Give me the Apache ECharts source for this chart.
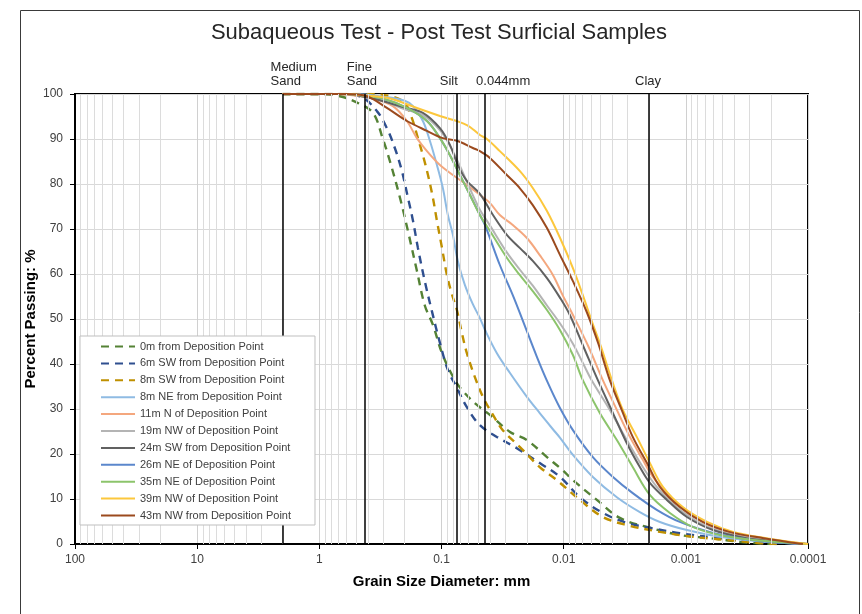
<!DOCTYPE html>
<html>
<head>
<meta charset="utf-8">
<script src="https://cdn.jsdelivr.net/npm/echarts@6/dist/echarts.min.js"></script>
<style>
  html, body { margin: 0; padding: 0; background: #fff; }
  #chart { width: 862px; height: 614px; }
</style>
</head>
<body>
<div id="chart"></div>
<script>
// grain size (mm) vs percent passing
var seriesNames = ['0m from Deposition Point', '6m SW from Deposition Point', '8m SW from Deposition Point',
  '8m NE from Deposition Point', '11m N of Deposition Point', '19m NW of Deposition Point',
  '24m SW from Deposition Point', '26m NE of Deposition Point', '35m NE of Deposition Point',
  '39m NW of Deposition Point', '43m NW from Deposition Point'];

var zeroM = [[2,100],[1,100],[0.68,99.5],[0.5,98.2],[0.364,95.8],[0.302,90],[0.264,85],[0.219,77],[0.188,69.5],
  [0.159,60.7],[0.137,53],[0.1175,48.7],[0.099,42.4],[0.0776,36.4],[0.0644,33.5],[0.0513,30.9],[0.0402,28.7],
  [0.0275,24.9],[0.02,23.1],[0.0137,19.3],[0.0102,16.4],[0.0084,14.2],[0.00535,9.8],[0.00347,5.8],[0.00197,3.6],
  [0.00112,2],[0.00064,1.3],[0.00034,0.4],[0.0002,0]];
var sixSW = [[2,100],[0.7,100],[0.466,99.5],[0.338,96.2],[0.28,92.4],[0.241,88],[0.211,82.9],[0.188,76.9],
  [0.171,71.8],[0.156,65.8],[0.137,58.4],[0.12,51.8],[0.103,44.7],[0.0887,38.7],[0.0748,34.7],[0.062,30.4],
  [0.0485,26.4],[0.0352,23.8],[0.0242,21.3],[0.0157,18],[0.0107,14.9],[0.00737,10.4],[0.00478,6.9],
  [0.00304,4.7],[0.00197,3.6],[0.00112,2.4],[0.00053,1.3],[0.00028,0.4],[0.00018,0]];
var eightSW = [[2,100],[0.4,100],[0.25,99.4],[0.1995,98],[0.175,94.7],[0.156,90.2],[0.142,86.4],[0.129,82],
  [0.1175,76.9],[0.109,71.8],[0.0991,65.8],[0.0903,59.8],[0.0822,55.5],[0.0748,52],[0.0681,46.9],[0.062,42.4],
  [0.0533,37.1],[0.0458,32.7],[0.0387,29.1],[0.0315,25.3],[0.0229,21.6],[0.0157,17.1],[0.0114,14.2],
  [0.00737,9.8],[0.00478,6],[0.00304,4.2],[0.00163,2.7],[0.00088,1.6],[0.00046,0.9],[0.00025,0.2],[0.00018,0]];
var eightNE = [[2,100],[0.5,100],[0.3,99.4],[0.2,98.5],[0.171,97.3],[0.142,94],[0.1245,89.6],[0.109,84.2],
  [0.0975,79.1],[0.0887,73.1],[0.0807,68.7],[0.0735,62.9],[0.0644,57.6],[0.0554,53.3],[0.0485,50.2],
  [0.0441,47.6],[0.0352,42.4],[0.0275,38],[0.02,32.7],[0.0157,29.1],[0.01225,25.5],[0.0107,23.6],[0.0084,19.8],
  [0.00577,14.9],[0.00367,10.4],[0.00238,7.1],[0.00163,4.9],[0.00098,3.1],[0.00053,1.6],[0.00028,0.7],[0.00012,0]];
var elevenN = [[2,100],[0.7,100],[0.5,99.6],[0.364,99],[0.25,97.3],[0.192,94],[0.159,90.2],[0.1315,87.3],
  [0.103,84.2],[0.0807,82],[0.062,79.8],[0.0485,77.6],[0.0402,75.8],[0.0333,73.1],[0.0261,70.9],[0.02,68],
  [0.0157,64.2],[0.01225,59.8],[0.0102,55.3],[0.0084,50.9],[0.0063,44],[0.00478,36.4],[0.00367,29.8],
  [0.00287,23.8],[0.00225,18.7],[0.00186,14.9],[0.00143,11.3],[0.00098,7.1],[0.00064,4.2],[0.00036,2],
  [0.00018,0.7],[0.0001,0]];
var nineteenNW = [[2,100],[0.6,100],[0.4,99.2],[0.3,98.5],[0.2,96.6],[0.142,95.3],[0.103,92],[0.0853,88.5],
  [0.0707,84],[0.0586,79],[0.0485,74.3],[0.0402,70.8],[0.0292,64.8],[0.0229,61],[0.0179,57.4],[0.0137,53],
  [0.0107,49],[0.0084,44.5],[0.0069,40],[0.0059,36.4],[0.00419,29.8],[0.00304,23.1],[0.00225,17.1],
  [0.00173,12.7],[0.00119,8.2],[0.00077,4.7],[0.00046,2.4],[0.00025,1.1],[0.00012,0]];
var twentyFourSW = [[2,100],[0.6,100],[0.4,99.2],[0.3,98.4],[0.2,97],[0.142,95.8],[0.103,92.4],[0.0853,88.7],
  [0.0735,84.2],[0.062,80.7],[0.0485,77.8],[0.0379,73.1],[0.0292,68.7],[0.0229,65.8],[0.0179,62.9],
  [0.0137,59.1],[0.0107,54.7],[0.0089,50.9],[0.0068,43.5],[0.00525,36.4],[0.00395,29.1],[0.00304,22.4],
  [0.00238,17.1],[0.00197,13.6],[0.00143,9.8],[0.00098,6],[0.0006,3.1],[0.00032,1.3],[0.00015,0.4],[0.0001,0]];
var twentySixNE = [[2,100],[0.6,100],[0.4,99.5],[0.302,99],[0.192,96.9],[0.1315,94],[0.103,90.2],[0.0853,86.4],
  [0.0707,82],[0.0586,77.6],[0.0485,73.1],[0.0441,70.9],[0.0333,62],[0.0261,55.3],[0.022,50.2],[0.01657,41.6],
  [0.01346,35.8],[0.0108,30.4],[0.0084,25.3],[0.00577,19.3],[0.00395,14.9],[0.00272,11.3],[0.00173,7.6],
  [0.00112,4.9],[0.00064,2.7],[0.00036,1.3],[0.00019,0.4],[0.0001,0]];
var thirtyFiveNE = [[2,100],[0.6,100],[0.4,99.5],[0.302,99],[0.192,96.9],[0.1315,94],[0.103,90.2],[0.0853,86.4],
  [0.0707,82],[0.0586,77.6],[0.0485,73.1],[0.0402,69.6],[0.0292,63.6],[0.0229,59.8],[0.0179,56.2],[0.0137,52],
  [0.0107,47.5],[0.0084,42],[0.00697,36.4],[0.00506,29.1],[0.00367,23.1],[0.00272,17.1],[0.00197,10.9],
  [0.00135,6.9],[0.00088,3.8],[0.00053,2],[0.00028,0.9],[0.00013,0.2],[0.0001,0]];
var thirtyNineNW = [[2,100],[0.6,100],[0.4,99.6],[0.264,99],[0.159,96.9],[0.103,95.1],[0.062,93.1],[0.0485,90.9],
  [0.0425,90],[0.0333,87.3],[0.0229,82.9],[0.0179,79.1],[0.0137,74],[0.0107,68],[0.0084,61.3],[0.00697,55.3],
  [0.00588,49.5],[0.0049,43.5],[0.00403,36.4],[0.00328,29.8],[0.00252,23.8],[0.00197,18],[0.00154,12.7],
  [0.00106,8.2],[0.00067,4.9],[0.00041,2.7],[0.00022,1.3],[0.0001,0]];
var fortyThreeNW = [[2,100],[0.6,100],[0.408,99.5],[0.28,96.9],[0.192,94],[0.1315,91.8],[0.0975,90.2],
  [0.0748,89.6],[0.0554,88],[0.0485,87.3],[0.0402,85.8],[0.0292,82],[0.0229,79.1],[0.0179,75.3],[0.0137,70.2],
  [0.0107,64.2],[0.0084,58.4],[0.00646,51.5],[0.0052,44.5],[0.00419,36.4],[0.00335,29.8],
  [0.00272,23.8],[0.00208,18],[0.00163,12.7],[0.00112,8.2],[0.00073,4.9],[0.00044,2.7],[0.00023,1.3],[0.00011,0]];

var allData = [zeroM, sixSW, eightSW, eightNE, elevenN, nineteenNW, twentyFourSW, twentySixNE,
  thirtyFiveNE, thirtyNineNW, fortyThreeNW];
var colours = ['#548235', '#2f4f8f', '#bf9000', '#8fbbe3', '#f4a77e', '#b4b4b4', '#616161', '#5b87cc',
  '#8cc46b', '#fcc73c', '#9b4a1e'];
var dashed = [true, true, true, false, false, false, false, false, false, false, false];

// soil class boundaries (mm)
var boundaryValues = [2, 0.425, 0.075, 0.044, 0.002];
var boundaryLabels = ['Medium\nSand', 'Fine\nSand', 'Silt', '0.044mm', 'Clay'];
var boundaryShift = [-12, -18, -17, -9, -14];

var yTicks = [0, 10, 20, 30, 40, 50, 60, 70, 80, 90, 100];

var FONT = "'Liberation Sans', Arial, sans-serif";

// minor log grid at 2..9 of every decade
var minorGrid = [];
for (var e = -4; e <= 1; e++) {
  for (var k = 2; k <= 9; k++) {
    minorGrid.push({ xAxis: +(k * Math.pow(10, e)).toPrecision(3) });
  }
}

var series = [];
series.push({
  type: 'line', name: 'minor', data: [], silent: true, z: 1,
  markLine: {
    silent: true, symbol: ['none', 'none'], animation: false, precision: 12,
    label: { show: false },
    lineStyle: { color: '#dcdcdc', width: 1, type: 'solid' },
    data: minorGrid
  }
});
series.push({
  type: 'line', name: 'bounds', data: [], silent: true, z: 2,
  markLine: {
    silent: true, symbol: ['none', 'none'], animation: false, precision: 12,
    lineStyle: { color: '#000', width: 1.5, type: 'solid' },
    label: {
      show: true, position: 'end', align: 'left', distance: 6,
      fontFamily: FONT, fontSize: 13, color: '#262626', lineHeight: 14
    },
    data: boundaryValues.map(function (v, i) {
      return {
        xAxis: v,
        label: { formatter: boundaryLabels[i], offset: [boundaryShift[i], 0] }
      };
    })
  }
});
for (var i = 0; i < allData.length; i++) {
  series.push({
    type: 'line',
    name: seriesNames[i],
    data: allData[i],
    smooth: 0.35,
    symbol: 'none',
    z: 3,
    color: colours[i],
    lineStyle: {
      color: colours[i],
      width: dashed[i] ? 2.4 : 2,
      type: dashed[i] ? [8, 6] : 'solid'
    }
  });
}

var chart = echarts.init(document.getElementById('chart'), null, { renderer: 'canvas' });
chart.setOption({
  backgroundColor: '#fff',
  animation: false,
  title: {
    text: 'Subaqueous Test - Post Test Surficial Samples',
    left: 434, top: 17, textAlign: 'center',
    textStyle: { fontFamily: FONT, fontSize: 22, fontWeight: 'normal', color: '#262626' }
  },
  graphic: [{
    type: 'rect', left: 18, top: 8, silent: true, z: -1,
    shape: { width: 839, height: 620 },
    style: { fill: 'none', stroke: '#3a3a3a', lineWidth: 1 }
  }],
  legend: {
    data: seriesNames,
    orient: 'vertical',
    left: 80, top: 336,
    itemWidth: 34, itemHeight: 12, itemGap: 5.9,
    padding: [5, 24, 4, 20],
    backgroundColor: '#fff',
    borderColor: '#bfbfbf', borderWidth: 1,
    itemStyle: { opacity: 0 },
    textStyle: { fontFamily: FONT, fontSize: 11, color: '#404040' },
    z: 10
  },
  grid: {
    left: 75, right: 54, top: 94, bottom: 70,
    show: true, borderColor: '#000', borderWidth: 2
  },
  xAxis: {
    type: 'log', logBase: 10, inverse: true,
    min: 0.0001, max: 100,
    name: 'Grain Size Diameter: mm',
    nameLocation: 'middle', nameGap: 30,
    nameTextStyle: { fontFamily: FONT, fontSize: 15, fontWeight: 'bold', color: '#000' },
    axisLine: { lineStyle: { color: '#000', width: 2 } },
    axisTick: { show: true, length: 5, lineStyle: { color: '#000', width: 1 } },
    axisLabel: {
      margin: 10, fontFamily: FONT, fontSize: 12, color: '#404040',
      formatter: function (v) { return String(+(+v).toPrecision(1)); }
    },
    splitLine: { show: true, lineStyle: { color: '#d0d0d0', width: 1 } }
  },
  yAxis: {
    type: 'value', min: 0, max: 100, interval: 10,
    name: 'Percent Passing: %',
    nameLocation: 'middle', nameGap: 37, nameRotate: 90, nameMoveOverlap: false,
    nameTextStyle: { fontFamily: FONT, fontSize: 15, fontWeight: 'bold', color: '#000' },
    axisLine: { show: true, lineStyle: { color: '#000', width: 2 } },
    axisTick: { show: true, length: 5, lineStyle: { color: '#000', width: 1 } },
    axisLabel: {
      margin: 12, fontFamily: FONT, fontSize: 12, color: '#404040',
      formatter: function (v) { return yTicks.indexOf(v) >= 0 ? String(v) : ''; }
    },
    splitLine: { show: true, lineStyle: { color: '#d9d9d9', width: 1 } }
  },
  series: series
});
</script>
</body>
</html>
